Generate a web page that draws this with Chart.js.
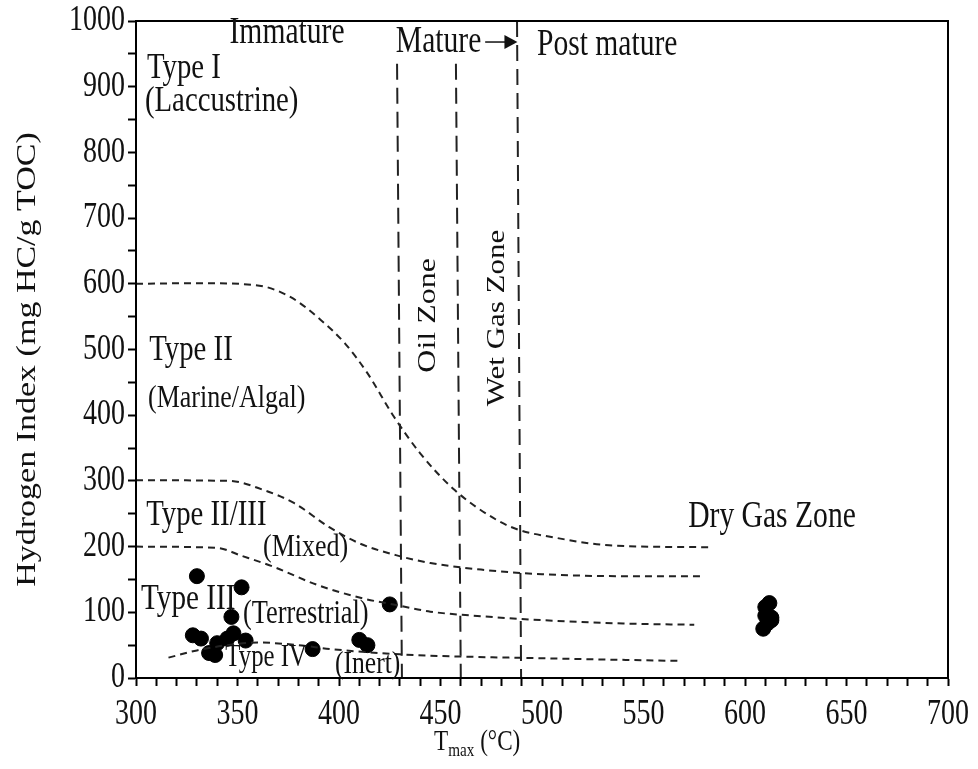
<!DOCTYPE html>
<html>
<head>
<meta charset="utf-8">
<script src="https://cdn.jsdelivr.net/npm/chart.js@4.4.1/dist/chart.umd.min.js"></script>
<style>
  html, body { margin: 0; padding: 0; background: #fff; }
  #wrap { width: 978px; height: 769px; }
</style>
</head>
<body>
<div id="wrap"><canvas id="chart"></canvas></div>
<script>
// Sample measurements (Tmax in °C, HI in mg HC/g TOC)
const tmaxSamples = [330, 352, 347, 425, 328, 332, 336, 339, 340, 345, 348, 354, 387, 410, 414, 610, 612, 610, 613, 611, 609, 613];
const hiSamples   = [155, 138, 93, 112, 65, 60, 38, 35, 53, 60, 68, 57, 44, 58, 50, 108, 114, 95, 88, 83, 75, 92];

// Kerogen type boundary curves
const typeITmax   = [300, 330, 359, 376, 391, 403, 414, 427, 440, 457, 478, 489, 504, 533, 582];
const typeIHI     = [600, 601, 598, 580, 545, 509, 464, 398, 342, 286, 240, 225, 215, 202, 199];
const typeIITmax  = [300, 346, 363, 378, 395, 410, 428, 445, 470, 500, 540, 578];
const typeIIHI    = [301, 300, 286, 266, 230, 205, 187, 175, 165, 158, 155, 155];
const typeIIITmax = [300, 340, 352, 368, 389, 412, 430, 445, 470, 500, 540, 575];
const typeIIIHI   = [200, 198, 186, 169, 142, 121, 110, 101, 94, 88, 83, 81];
const typeIVTmax  = [316, 330, 345, 360, 380, 396, 430, 445, 500, 568];
const typeIVHI    = [31, 42, 50, 54, 50, 44, 36, 34, 30, 26];

// Maturity boundaries (top Tmax, bottom Tmax, top HI)
const zoneTopTmax = [428.6, 457.6, 487.7];
const zoneBotTmax = [431, 460, 489.7];
const zoneTopHI   = [935, 935, 1000];

// Axis ticks
const xMin = 300, xMax = 700, xStep = 10, xLabelEvery = 50;
const yMin = 0, yMax = 1000, yStep = 50, yLabelEvery = 100;

// Text annotations in data coordinates
const notes = [
  { t: 'Immature', x: 374.4, y: 981, a: 'center', s: 37 },
  { t: 'Mature', x: 428, y: 968, a: 'left', s: 37 },
  { t: 'Post mature', x: 497.5, y: 963, a: 'left', s: 37 },
  { t: 'Type I', x: 305.4, y: 928, a: 'left', s: 36 },
  { t: '(Laccustrine)', x: 304.4, y: 878, a: 'left', s: 36 },
  { t: 'Type II', x: 306.5, y: 499, a: 'left', s: 36 },
  { t: '(Marine/Algal)', x: 305.9, y: 426, a: 'left', s: 32.5 },
  { t: 'Type II/III', x: 305, y: 248, a: 'left', s: 36 },
  { t: '(Mixed)', x: 362.6, y: 198, a: 'left', s: 32.5 },
  { t: 'Type III', x: 302.5, y: 119, a: 'left', s: 36.5 },
  { t: '(Terrestrial)', x: 352.7, y: 97, a: 'left', s: 33 },
  { t: 'Type IV', x: 344, y: 31, a: 'left', s: 31 },
  { t: '(Inert)', x: 398, y: 20, a: 'left', s: 32 },
  { t: 'Dry Gas Zone', x: 572, y: 245, a: 'left', s: 37 },
  { t: 'Oil Zone', x: 443.8, y: 552, a: 'center', s: 32, r: true },
  { t: 'Wet Gas Zone', x: 478.3, y: 548, a: 'center', s: 31, r: true }
];
const arrowFrom = [472, 968], arrowTo = [487.9, 968];

const FONT = '"Liberation Serif", "Times New Roman", serif';
const SQUEEZE = 0.8; // the reference type is narrow

function pts(xs, ys) {
  return xs.map((x, i) => ({ x: x, y: ys[i] }));
}

function curve(xs, ys) {
  return {
    type: 'line',
    data: pts(xs, ys),
    borderColor: '#222',
    borderWidth: 2,
    borderDash: [7, 5],
    pointRadius: 0,
    cubicInterpolationMode: 'monotone',
    fill: false
  };
}

const datasets = [
  curve(typeITmax, typeIHI),
  curve(typeIITmax, typeIIHI),
  curve(typeIIITmax, typeIIIHI),
  curve(typeIVTmax, typeIVHI)
];

// vertical maturity lines
zoneTopTmax.forEach((t, i) => {
  datasets.push({
    type: 'line',
    data: [{ x: t, y: zoneTopHI[i] }, { x: zoneBotTmax[i], y: 0 }],
    borderColor: '#222',
    borderWidth: 2,
    borderDash: [16, 8],
    pointRadius: 0,
    fill: false
  });
});

datasets.push({
  type: 'scatter',
  data: pts(tmaxSamples, hiSamples),
  backgroundColor: '#000',
  borderColor: '#000',
  pointRadius: 7.5,
  pointHoverRadius: 7.5
});

// narrow text, optionally rotated to read bottom-up
function drawText(ctx, text, px, py, size, align, rotated) {
  ctx.save();
  ctx.translate(px, py);
  if (rotated) {
    ctx.rotate(-Math.PI / 2);
    ctx.scale(1, SQUEEZE);
  } else {
    ctx.scale(SQUEEZE, 1);
  }
  ctx.font = size + 'px ' + FONT;
  ctx.textAlign = align;
  ctx.textBaseline = 'middle';
  ctx.fillText(text, 0, 0);
  ctx.restore();
}

// Draws the frame, tick labels, annotations and axis titles
const decor = {
  id: 'decor',
  afterDraw(chart) {
    const ctx = chart.ctx;
    const xs = chart.scales.x, ys = chart.scales.y;
    const area = chart.chartArea;
    ctx.save();
    ctx.strokeStyle = '#000';
    ctx.lineWidth = 2;
    ctx.strokeRect(area.left, area.top, area.right - area.left, area.bottom - area.top);

    ctx.fillStyle = '#111';
    for (let v = xMin; v <= xMax; v += xLabelEvery) {
      drawText(ctx, String(v), xs.getPixelForValue(v), area.bottom + 37, 35, 'center');
    }
    for (let v = yMin; v <= yMax; v += yLabelEvery) {
      drawText(ctx, String(v), area.left - 11, ys.getPixelForValue(v), 35, 'right');
    }

    notes.forEach(n => {
      drawText(ctx, n.t, xs.getPixelForValue(n.x), ys.getPixelForValue(n.y), n.s, n.a, n.r);
    });

    // arrow after "Mature"
    const ax1 = xs.getPixelForValue(arrowFrom[0]), ay = ys.getPixelForValue(arrowFrom[1]);
    const ax2 = xs.getPixelForValue(arrowTo[0]);
    ctx.strokeStyle = '#111';
    ctx.lineWidth = 1.5;
    ctx.beginPath();
    ctx.moveTo(ax1, ay);
    ctx.lineTo(ax2 - 10, ay);
    ctx.stroke();
    ctx.beginPath();
    ctx.moveTo(ax2, ay);
    ctx.lineTo(ax2 - 13, ay - 7);
    ctx.lineTo(ax2 - 13, ay + 7);
    ctx.closePath();
    ctx.fill();

    // y title
    drawText(ctx, 'Hydrogen Index (mg HC/g TOC)', 28, (area.top + area.bottom) / 2 + 10, 34, 'center', true);

    // x title with subscript
    const ty = 742;
    ctx.font = '29px ' + FONT;
    const wT = ctx.measureText('T').width * SQUEEZE;
    const rest = ' (°C)';
    ctx.font = '19px ' + FONT;
    const wS = ctx.measureText('max').width * SQUEEZE;
    const x0 = 434;
    drawText(ctx, 'T', x0, ty, 29, 'left');
    drawText(ctx, 'max', x0 + wT, ty + 9, 19, 'left');
    drawText(ctx, rest, x0 + wT + wS, ty, 29, 'left');
    ctx.restore();
  }
};

new Chart(document.getElementById('chart'), {
  type: 'scatter',
  data: { datasets: datasets },
  options: {
    responsive: true,
    maintainAspectRatio: false,
    animation: false,
    events: [],
    layout: { padding: { top: 21, right: 30, left: 0, bottom: 0 } },
    plugins: { legend: { display: false }, tooltip: { enabled: false } },
    scales: {
      x: {
        type: 'linear',
        min: xMin, max: xMax,
        afterFit: s => { s.height = 91; },
        afterBuildTicks: s => {
          s.ticks = [];
          for (let v = xMin; v <= xMax; v += xStep) s.ticks.push({ value: v });
        },
        ticks: { display: false, autoSkip: false },
        grid: { drawOnChartArea: false, color: '#000', tickLength: 8, tickWidth: 2 },
        border: { color: '#000', width: 2 }
      },
      y: {
        type: 'linear',
        min: yMin, max: yMax,
        afterFit: s => { s.width = 136; },
        afterBuildTicks: s => {
          s.ticks = [];
          for (let v = yMin; v <= yMax; v += yStep) s.ticks.push({ value: v });
        },
        ticks: { display: false, autoSkip: false },
        grid: { drawOnChartArea: false, color: '#000', tickLength: 8, tickWidth: 2 },
        border: { color: '#000', width: 2 }
      }
    }
  },
  plugins: [decor]
});
</script>
</body>
</html>
